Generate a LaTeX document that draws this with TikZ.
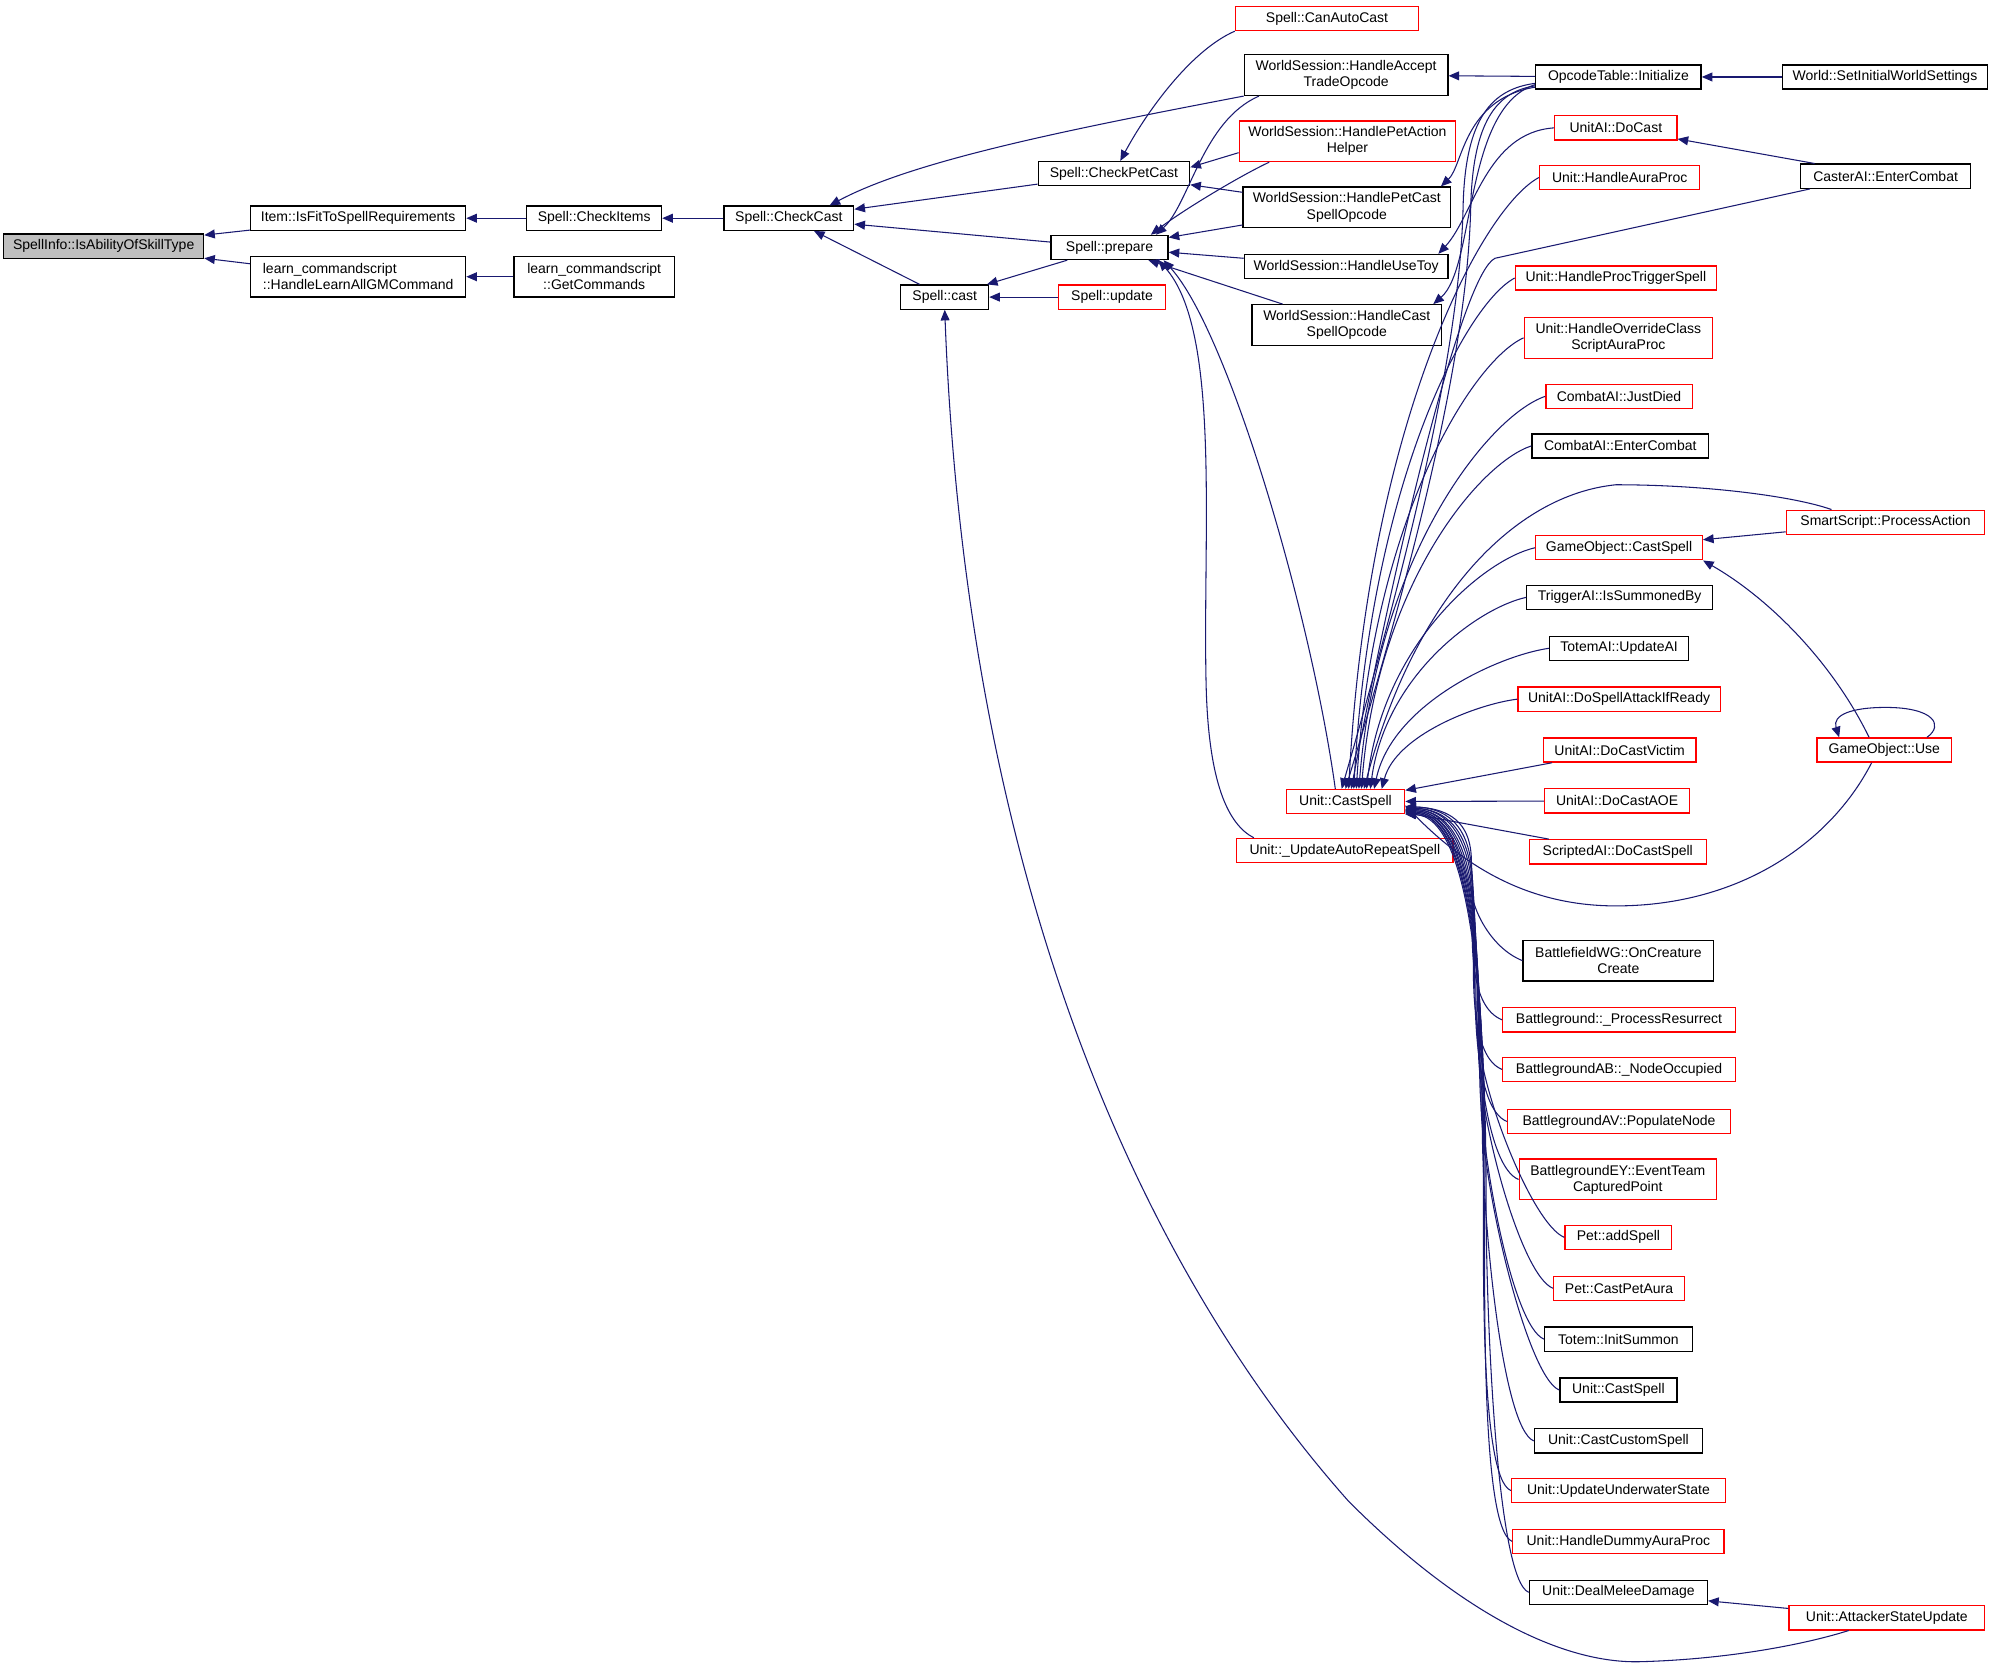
\documentclass[tikz,border=0pt]{standalone}
\usepackage{fontspec}
\setmainfont{Liberation Sans}
\usetikzlibrary{calc, arrows.meta}

\definecolor{edgeblue}{HTML}{191970}
\definecolor{hlgray}{HTML}{BFBFBF}

\tikzset{
    fn/.style={draw=black, line width=0.6pt, rectangle, inner sep=0pt, align=center,
        font=\fontsize{6.6}{7.6}\selectfont, minimum height=11.4pt},
    trunc/.style={fn, draw=red},
    two/.style={minimum height=19.2pt},
    wd/.style={minimum width=#1*0.6pt},
    calls/.style={draw=edgeblue, line width=0.5pt, {Triangle[length=5pt,width=4.2pt]}-},
}

\begin{document}
\begin{tikzpicture}[x=0.6pt, y=-0.6pt]
    \useasboundingbox (0,0) rectangle (1568,1310);

    % Left part: the function itself and its direct callers
    \node[fn, wd=157, fill=hlgray] (isAbility) at (81.5,193.5) {SpellInfo::IsAbilityOfSkillType};
    \node[fn, wd=169] (isFit) at (281.5,171.5) {Item::IsFitToSpellRequirements};
    \node[fn, two, wd=169, align=left] (learnAll) at (281.5,217.5) {learn\_commandscript\\::HandleLearnAllGMCommand};
    \node[fn, wd=106] (checkItems) at (467,171.5) {Spell::CheckItems};
    \node[fn, two, wd=126] (getCmds) at (467,217.5) {learn\_commandscript\\::GetCommands};
    \node[fn, wd=102] (checkCast) at (620,171.5) {Spell::CheckCast};
    \node[fn, wd=69] (cast) at (742.5,233.5) {Spell::cast};
    \node[fn, wd=119] (checkPet) at (875.5,136.5) {Spell::CheckPetCast};
    \node[fn, wd=92] (prepare) at (872,194.5) {Spell::prepare};
    \node[trunc, wd=84] (update) at (874,233.5) {Spell::update};

    % WorldSession handlers
    \node[trunc, wd=144] (canAuto) at (1043,14.5) {Spell::CanAutoCast};
    \node[fn, two, wd=160] (acceptTrade) at (1058,59) {WorldSession::HandleAccept\\TradeOpcode};
    \node[trunc, two, wd=170] (petAction) at (1059,111) {WorldSession::HandlePetAction\\Helper};
    \node[fn, two, wd=163] (petCast) at (1058.5,163) {WorldSession::HandlePetCast\\SpellOpcode};
    \node[fn, wd=160] (useToy) at (1058,209.5) {WorldSession::HandleUseToy};
    \node[fn, two, wd=149] (castOp) at (1058.5,255.5) {WorldSession::HandleCast\\SpellOpcode};
    \node[trunc, wd=93] (uCast) at (1057.5,630) {Unit::CastSpell};
    \node[trunc, wd=170] (autoRepeat) at (1057,668.5) {Unit::\_UpdateAutoRepeatSpell};

    % Column of callers of Unit::CastSpell
    \node[fn, wd=130] (opInit) at (1272,60.5) {OpcodeTable::Initialize};
    \node[trunc, wd=96] (doCast) at (1270,100.5) {UnitAI::DoCast};
    \node[trunc, wd=126] (auraProc) at (1273,139.5) {Unit::HandleAuraProc};
    \node[trunc, wd=158] (procTrig) at (1270,218.5) {Unit::HandleProcTriggerSpell};
    \node[trunc, two, wd=148] (overrideCls) at (1272,265.5) {Unit::HandleOverrideClass\\ScriptAuraProc};
    \node[trunc, wd=115] (justDied) at (1272.5,311.5) {CombatAI::JustDied};
    \node[fn, wd=139] (enterCombat) at (1273.5,350.5) {CombatAI::EnterCombat};
    \node[trunc, wd=131] (goCast) at (1272.5,430.5) {GameObject::CastSpell};
    \node[fn, wd=146] (summoned) at (1273,469.5) {TriggerAI::IsSummonedBy};
    \node[fn, wd=109] (totemUpd) at (1272.5,509.5) {TotemAI::UpdateAI};
    \node[trunc, wd=159] (attackIfReady) at (1272.5,549.5) {UnitAI::DoSpellAttackIfReady};
    \node[trunc, wd=120] (castVictim) at (1273,589.5) {UnitAI::DoCastVictim};
    \node[trunc, wd=114] (castAOE) at (1271,629.5) {UnitAI::DoCastAOE};
    \node[trunc, wd=139] (scriptedCast) at (1271.5,669.5) {ScriptedAI::DoCastSpell};
    \node[fn, two, wd=150] (wgCreate) at (1272,755) {BattlefieldWG::OnCreature\\Create};
    \node[trunc, wd=183] (bgResurrect) at (1272.5,801.5) {Battleground::\_ProcessResurrect};
    \node[trunc, wd=183] (abNode) at (1272.5,840.5) {BattlegroundAB::\_NodeOccupied};
    \node[trunc, wd=175] (avNode) at (1272.5,881.5) {BattlegroundAV::PopulateNode};
    \node[trunc, two, wd=155] (eyPoint) at (1271.5,927) {BattlegroundEY::EventTeam\\CapturedPoint};
    \node[trunc, wd=84] (petAdd) at (1272,972.5) {Pet::addSpell};
    \node[trunc, wd=103] (petAura) at (1272.5,1012.5) {Pet::CastPetAura};
    \node[fn, wd=116] (totemSummon) at (1272,1052.5) {Totem::InitSummon};
    \node[fn, wd=92] (uCast2) at (1272,1092.5) {Unit::CastSpell};
    \node[fn, wd=132] (customSpell) at (1272,1132.5) {Unit::CastCustomSpell};
    \node[trunc, wd=168] (underwater) at (1272,1171.5) {Unit::UpdateUnderwaterState};
    \node[trunc, wd=166] (dummyAura) at (1272,1211.5) {Unit::HandleDummyAuraProc};
    \node[fn, wd=140] (meleeDmg) at (1272,1251.5) {Unit::DealMeleeDamage};

    % Rightmost column
    \node[fn, wd=161] (worldInit) at (1481.5,60.5) {World::SetInitialWorldSettings};
    \node[fn, wd=134] (casterCombat) at (1482,138.5) {CasterAI::EnterCombat};
    \node[trunc, wd=156] (smartAct) at (1482,410.5) {SmartScript::ProcessAction};
    \node[trunc, wd=106] (goUse) at (1481,589.5) {GameObject::Use};
    \node[trunc, wd=154] (attackerUpd) at (1483,1271.5) {Unit::AttackerStateUpdate};

    % Calls on the left side
    \draw[calls] (isAbility) -- (isFit);
    \draw[calls] (isAbility) -- (learnAll);
    \draw[calls] (isFit) -- (checkItems);
    \draw[calls] (learnAll) -- (getCmds);
    \draw[calls] (checkItems) -- (checkCast);
    \draw[calls] (checkCast) -- (cast);
    \draw[calls] (checkCast) -- (checkPet);
    \draw[calls] (checkCast) -- (prepare);
    \draw[calls] ($(checkCast.north)+(32,0)$) .. controls (720,125) and (850,100) .. (acceptTrade.south west);
    \draw[calls] (cast) -- (prepare);
    \draw[calls] (cast) -- (update);
    % long way back from the melee update
    \draw[calls] (cast.south) .. controls (760,700) and (900,1000) .. (1060,1180)
        .. controls (1150,1270) and (1230,1308) .. (1290,1306)
        .. controls (1360,1304) and (1420,1292) .. ($(attackerUpd.south)+(-30,0)$);

    % Spell::CheckPetCast and Spell::prepare
    \draw[calls] ($(checkPet.north)+(5,0)$) .. controls (900,90) and (935,40) .. (canAuto.south west);
    \draw[calls] ($(checkPet.east)+(0,-5)$) -- ($(petAction.west)+(0,9)$);
    \draw[calls] (checkPet) -- (petCast);
    \draw[calls] ($(prepare.north east)+(-10,0)$) .. controls (935,160) and (945,95) .. ($(acceptTrade.south west)+(12,0)$);
    \draw[calls] ($(prepare.north east)+(-14,0)$) .. controls (930,165) and (975,138) .. ($(petAction.south west)+(24,0)$);
    \draw[calls] (prepare) -- (petCast);
    \draw[calls] (prepare) -- (useToy);
    \draw[calls] (prepare) -- (castOp);
    \draw[calls] ($(prepare.south east)+(-4,0)$) .. controls (965,260) and (1030,480) .. ($(uCast.north)+(-8,0)$);
    \draw[calls] ($(prepare.south east)+(-8,0)$) .. controls (960,260) and (945,420) .. (948,540)
        .. controls (950,615) and (965,648) .. ($(autoRepeat.north west)+(14,0)$);

    % OpcodeTable::Initialize and friends
    \draw[calls] (acceptTrade) -- (opInit);
    \draw[calls] (opInit) -- (worldInit);
    \draw[calls] ($(petCast.north east)+(-8,0)$) .. controls (1150,130) and (1150,78) .. ($(opInit.south west)+(0,-2)$);
    \draw[calls] ($(castOp.north east)+(-7,0)$) .. controls (1160,210) and (1150,85) .. ($(opInit.south west)+(0,-4)$);
    \draw[calls] ($(useToy.north east)+(-8,0)$) .. controls (1158,170) and (1168,104) .. (doCast.west);
    \draw[calls] ($(uCast.north)+(-3,0)$) .. controls (1118,400) and (1148,260) .. (1150,160)
        .. controls (1152,92) and (1173,70) .. ($(opInit.south west)+(0,-5)$);
    \draw[calls] ($(uCast.north)+(0,0)$) .. controls (1124,400) and (1154,260) .. (1156,160)
        .. controls (1158,96) and (1176,72) .. ($(opInit.south west)+(0,-3)$);
    \draw[calls] (doCast) -- (casterCombat);
    \draw[calls] ($(uCast.north)+(4.5,0)$) .. controls (1100,420) and (1150,215) .. (1175,203)
        -- ($(casterCombat.south west)+(8,0)$);

    % callers above Unit::CastSpell
    \foreach \nd/\ox/\ax/\ay/\bx/\by in {
        auraProc/2.5/15/-288/-45/24,
        procTrig/6.5/13/-241/-38/20,
        overrideCls/8.5/13/-213/-40/18,
        justDied/10.5/15/-185/-44/15,
        enterCombat/12.5/13/-162/-40/13,
        goCast/16.5/13/-114/-40/9,
        summoned/19.5/12/-90/-37/8,
        totemUpd/22.5/14/-66/-41/6,
        attackIfReady/28.5/11/-42/-32/4}
        \draw[calls] ($(uCast.north)+(\ox,0)$) .. controls ($(uCast.north)+(\ox+\ax,\ay)$)
            and ($(\nd.west)+(\bx,\by)$) .. (\nd.west);

    \draw[calls] ($(uCast.north)+(14.5,0)$) .. controls (1112,470) and (1190,389) .. (1270,381)
        .. controls (1340,381) and (1410,390) .. ($(smartAct.north west)+(36,0)$);
    \draw[calls] (uCast) -- (castVictim);
    \draw[calls] (uCast) -- (castAOE);
    \draw[calls] (uCast) -- (scriptedCast);

    % callers below Unit::CastSpell: one bundle going down right of the auto repeat box
    \foreach \nd/\oy/\mx/\my/\h in {
        wgCreate/4/1156/695.5/18,
        bgResurrect/4/1157/718.8/25,
        abNode/5/1158/738/31,
        avNode/5/1159/758.8/37,
        eyPoint/6/1160/781.5/44,
        petAdd/6/1161/804/50,
        petAura/7/1162/824/56,
        totemSummon/7/1163/844/62,
        uCast2/8/1164/864/68,
        customSpell/8/1165/884/74,
        underwater/9/1166/904/80,
        dummyAura/9/1167/924/86,
        meleeDmg/10/1168/944/92}
        \draw[calls] ($(uCast.east)+(0,\oy)$) .. controls ($(uCast.east)+(60,\oy+2)$)
            and (\mx,\my-\h) .. (\mx,\my)
            .. controls (\mx,\my+\h) and ($(\nd.west)+(-25,-10)$) .. (\nd.west);

    % GameObject calls
    \draw[calls] (goCast) -- (smartAct);
    \draw[calls] (goCast.south east) .. controls (1390,470) and (1440,520) .. ($(goUse.north)+(-12,0)$);
    \draw[calls] ($(goUse.north west)+(18,0)$) .. controls (1440,562) and (1455,556) .. (1482,556)
        .. controls (1520,556) and (1528,570) .. ($(goUse.north east)+(-20,0)$);
    \draw[calls] ($(uCast.east)+(0,3)$) .. controls (1150,680) and (1200,712) .. (1270,712)
        .. controls (1370,712) and (1440,660) .. ($(goUse.south)+(-10,0)$);

    \draw[calls] (meleeDmg) -- (attackerUpd);
\end{tikzpicture}
\end{document}
